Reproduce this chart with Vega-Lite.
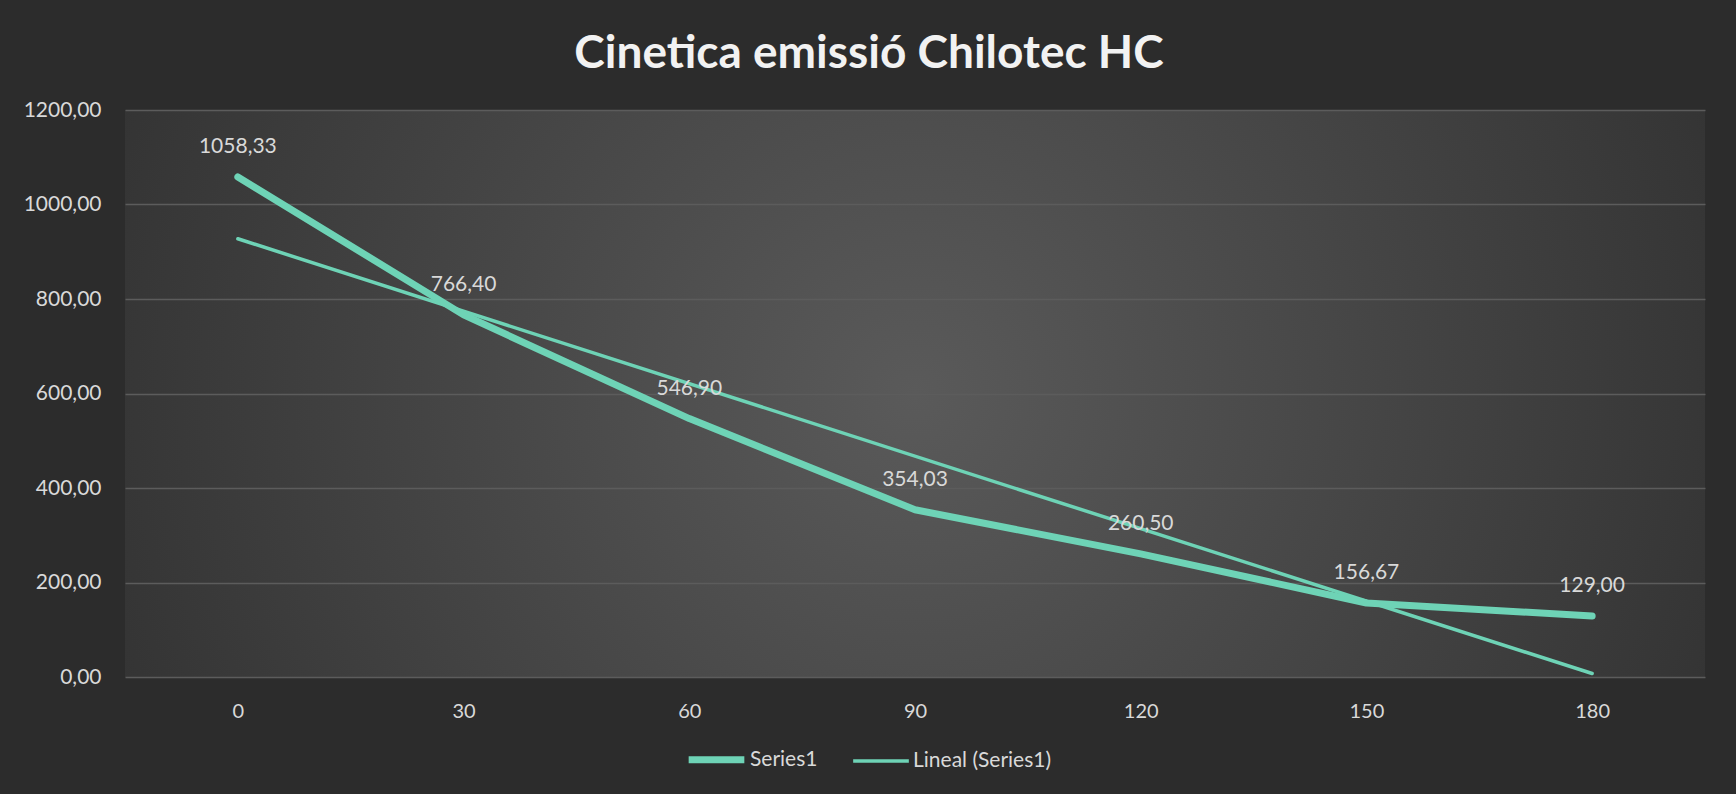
{
  "$schema": "https://vega.github.io/schema/vega-lite/v6.json",
  "width": 1580,
  "height": 567,
  "autosize": {"type": "none"},
  "padding": {"left": 125, "top": 110, "right": 31, "bottom": 117},
  "background": "#2c2c2c",
  "config": {
    "font": "Lato",
    "locale": {"number": {"decimal": ",", "thousands": ".", "grouping": [3], "currency": ["", " €"]}},
    "view": {
      "stroke": null,
      "fill": {
        "gradient": "radial",
        "x1": 0.5, "y1": 0.5, "x2": 0.5, "y2": 0.5, "r1": 0, "r2": 0.62,
        "stops": [
          {"offset": 0, "color": "#5a5a5a"},
          {"offset": 1, "color": "#2e2e2e"}
        ]
      }
    },
    "axis": {
      "domain": false,
      "ticks": false,
      "title": null,
      "labelFont": "Lato",
      "labelFontSize": 20,
      "labelColor": "#d9d9d9"
    },
    "legend": {
      "labelFont": "Lato",
      "labelFontSize": 21,
      "labelColor": "#d9d9d9",
      "symbolStrokeColor": "#6ed3b6",
      "symbolType": "stroke",
      "symbolSize": 3100,
      "labelOffset": 2,
      "columnPadding": 28
    }
  },
  "title": {
    "text": "Cinetica emissió Chilotec HC",
    "font": "Lato",
    "fontSize": 46,
    "fontWeight": "bold",
    "color": "#f2f2f2",
    "anchor": "middle",
    "frame": "group",
    "dx": -46,
    "offset": 21
  },
  "data": {
    "values": [
      {"t": 0, "value": 1058.33},
      {"t": 30, "value": 766.40},
      {"t": 60, "value": 546.90},
      {"t": 90, "value": 354.03},
      {"t": 120, "value": 260.50},
      {"t": 150, "value": 156.67},
      {"t": 180, "value": 129.00}
    ]
  },
  "encoding": {
    "x": {
      "field": "t",
      "type": "quantitative",
      "scale": {"domain": [-15, 195], "nice": false, "zero": false},
      "axis": {"values": [0, 30, 60, 90, 120, 150, 180], "format": "d", "grid": false, "labelPadding": 24}
    },
    "y": {
      "field": "value",
      "type": "quantitative",
      "scale": {"domain": [0, 1200], "nice": false},
      "axis": {
        "values": [0, 200, 400, 600, 800, 1000, 1200],
        "format": ".2f",
        "grid": true,
        "gridColor": "#5c5c5c",
        "gridWidth": 1.3,
        "labelPadding": 24,
        "labelFontSize": 21
      }
    }
  },
  "layer": [
    {
      "transform": [{"regression": "value", "on": "t"}],
      "mark": {"type": "line", "color": "#6ed3b6", "strokeCap": "round"},
      "encoding": {
        "strokeWidth": {
          "datum": "Lineal (Series1)",
          "type": "nominal",
          "scale": {"type": "ordinal", "domain": ["Series1", "Lineal (Series1)"], "range": [7, 3.5]},
          "legend": {"orient": "none", "legendX": 560, "legendY": 618, "direction": "horizontal", "title": null}
        }
      }
    },
    {
      "mark": {"type": "line", "color": "#6ed3b6", "strokeCap": "round", "strokeJoin": "round"},
      "encoding": {
        "strokeWidth": {
          "datum": "Series1",
          "type": "nominal",
          "scale": {"type": "ordinal", "domain": ["Series1", "Lineal (Series1)"], "range": [7, 3.5]},
          "legend": {"orient": "none", "legendX": 560, "legendY": 618, "direction": "horizontal", "title": null}
        }
      }
    },
    {
      "mark": {"type": "text", "dy": -30, "fontSize": 21, "color": "#d9d9d9", "font": "Lato"},
      "encoding": {
        "text": {"field": "value", "type": "quantitative", "format": ".2f"}
      }
    }
  ],
  "resolve": {"scale": {"strokeWidth": "shared"}, "legend": {"strokeWidth": "shared"}}
}
